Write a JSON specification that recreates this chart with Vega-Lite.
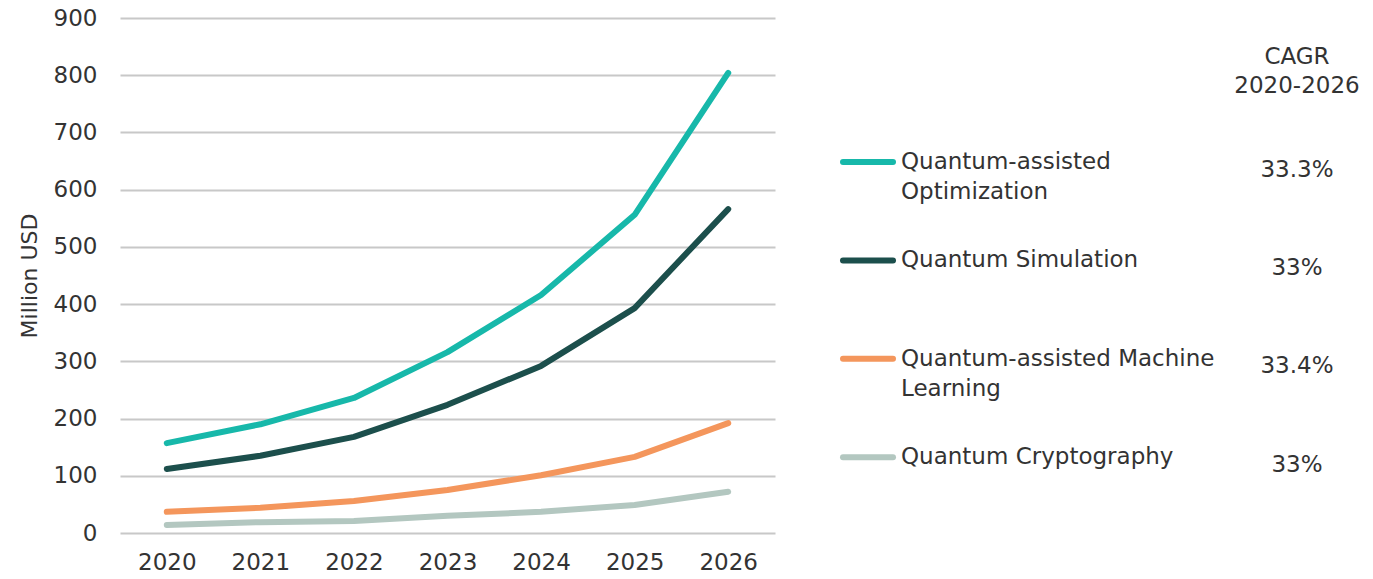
{
  "$schema": "https://vega.github.io/schema/vega-lite/v6.json",
  "padding": {"left": 18, "top": 7, "right": 5, "bottom": 0},
  "spacing": 0,
  "bounds": "flush",
  "config": {
    "font": "DejaVu Sans",
    "view": {"stroke": null},
    "axis": {"labelColor": "#333333", "titleColor": "#333333", "labelFont": "DejaVu Sans", "titleFont": "DejaVu Sans"}
  },
  "datasets": {
    "market": [
      {"year": "2020", "series": "Quantum-assisted Optimization", "value": 157},
      {"year": "2021", "series": "Quantum-assisted Optimization", "value": 190},
      {"year": "2022", "series": "Quantum-assisted Optimization", "value": 236},
      {"year": "2023", "series": "Quantum-assisted Optimization", "value": 316},
      {"year": "2024", "series": "Quantum-assisted Optimization", "value": 416},
      {"year": "2025", "series": "Quantum-assisted Optimization", "value": 556},
      {"year": "2026", "series": "Quantum-assisted Optimization", "value": 804},
      {"year": "2020", "series": "Quantum Simulation", "value": 112},
      {"year": "2021", "series": "Quantum Simulation", "value": 135},
      {"year": "2022", "series": "Quantum Simulation", "value": 168},
      {"year": "2023", "series": "Quantum Simulation", "value": 224},
      {"year": "2024", "series": "Quantum Simulation", "value": 292},
      {"year": "2025", "series": "Quantum Simulation", "value": 393},
      {"year": "2026", "series": "Quantum Simulation", "value": 566},
      {"year": "2020", "series": "Quantum-assisted Machine Learning", "value": 37},
      {"year": "2021", "series": "Quantum-assisted Machine Learning", "value": 44},
      {"year": "2022", "series": "Quantum-assisted Machine Learning", "value": 56},
      {"year": "2023", "series": "Quantum-assisted Machine Learning", "value": 75},
      {"year": "2024", "series": "Quantum-assisted Machine Learning", "value": 101},
      {"year": "2025", "series": "Quantum-assisted Machine Learning", "value": 133},
      {"year": "2026", "series": "Quantum-assisted Machine Learning", "value": 192},
      {"year": "2020", "series": "Quantum Cryptography", "value": 14},
      {"year": "2021", "series": "Quantum Cryptography", "value": 19},
      {"year": "2022", "series": "Quantum Cryptography", "value": 21},
      {"year": "2023", "series": "Quantum Cryptography", "value": 30},
      {"year": "2024", "series": "Quantum Cryptography", "value": 37},
      {"year": "2025", "series": "Quantum Cryptography", "value": 49},
      {"year": "2026", "series": "Quantum Cryptography", "value": 72}
    ],
    "legend": [
      {"series": "Quantum-assisted Optimization", "label": "Quantum-assisted\nOptimization", "cagr": "33.3%"},
      {"series": "Quantum Simulation", "label": "Quantum Simulation", "cagr": "33%"},
      {"series": "Quantum-assisted Machine Learning", "label": "Quantum-assisted Machine\nLearning", "cagr": "33.4%"},
      {"series": "Quantum Cryptography", "label": "Quantum Cryptography", "cagr": "33%"}
    ]
  },
  "hconcat": [
    {
      "width": 655,
      "height": 515,
      "data": {"name": "market"},
      "mark": {"type": "line", "strokeWidth": 6, "strokeCap": "round", "strokeJoin": "round", "interpolate": "linear"},
      "encoding": {
        "x": {
          "field": "year", "type": "ordinal",
          "scale": {"type": "point", "padding": 0.5},
          "axis": {"title": null, "labelAngle": 0, "domain": false, "ticks": false, "labelPadding": 18, "labelFontSize": 23, "grid": false}
        },
        "y": {
          "field": "value", "type": "quantitative",
          "scale": {"domain": [0, 900], "nice": false},
          "axis": {
            "values": [0, 100, 200, 300, 400, 500, 600, 700, 800, 900],
            "title": "Million USD", "titleFontSize": 22, "titleFontWeight": "normal", "titlePadding": 12,
            "domain": false, "ticks": false, "labelPadding": 23, "labelFontSize": 23,
            "grid": true, "gridColor": "#c8c8c8", "gridWidth": 2
          }
        },
        "color": {
          "field": "series", "type": "nominal",
          "scale": {
            "domain": ["Quantum-assisted Optimization", "Quantum Simulation", "Quantum-assisted Machine Learning", "Quantum Cryptography"],
            "range": ["#17b8aa", "#1c4f4c", "#f4965c", "#b3c7c0"]
          },
          "legend": null
        }
      }
    },
    {
      "width": 470,
      "height": 492,
      "data": {"name": "legend"},
      "encoding": {
        "y": {
          "field": "series", "type": "nominal",
          "sort": ["Quantum-assisted Optimization", "Quantum Simulation", "Quantum-assisted Machine Learning", "Quantum Cryptography"],
          "scale": {"type": "point", "padding": 1, "align": 0.732},
          "axis": null
        }
      },
      "layer": [
        {
          "mark": {"type": "point", "shape": "stroke", "size": 2500, "strokeWidth": 6, "strokeCap": "round", "filled": false, "opacity": 1, "xOffset": -142},
          "encoding": {
            "color": {
              "field": "series", "type": "nominal",
              "scale": {
                "domain": ["Quantum-assisted Optimization", "Quantum Simulation", "Quantum-assisted Machine Learning", "Quantum Cryptography"],
                "range": ["#17b8aa", "#1c4f4c", "#f4965c", "#b3c7c0"]
              },
              "legend": null
            }
          }
        },
        {
          "mark": {"type": "text", "align": "left", "baseline": "middle", "dx": -109, "fontSize": 23, "lineBreak": "\n", "lineHeight": 30, "color": "#333333"},
          "encoding": {"text": {"field": "label"}}
        }
      ]
    },
    {
      "width": 104,
      "height": 491,
      "data": {"name": "legend"},
      "title": {"text": ["CAGR", "2020-2026"], "fontSize": 23, "fontWeight": "normal", "color": "#333333", "lineHeight": 29, "anchor": "middle", "frame": "group", "offset": -80},
      "mark": {"type": "text", "align": "center", "baseline": "middle", "fontSize": 23, "color": "#333333"},
      "encoding": {
        "y": {
          "field": "series", "type": "nominal",
          "sort": ["Quantum-assisted Optimization", "Quantum Simulation", "Quantum-assisted Machine Learning", "Quantum Cryptography"],
          "scale": {"type": "point", "padding": 1, "align": 0.774},
          "axis": null
        },
        "text": {"field": "cagr"}
      }
    }
  ]
}
